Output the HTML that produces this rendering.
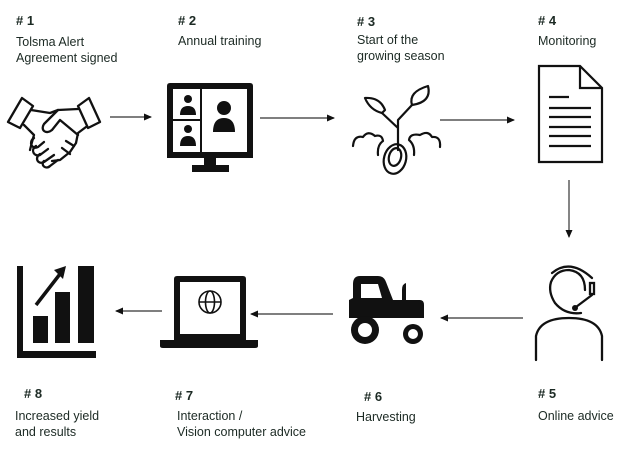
<!DOCTYPE html>
<html><head><meta charset="utf-8"><style>
html,body{margin:0;padding:0;background:#fff;}
svg{display:block;}
text{font-family:"Liberation Sans",sans-serif;fill:#1c2a24;font-size:12.5px;}
.h{font-weight:bold;font-size:13px;}
</style></head><body>
<svg width="624" height="453" viewBox="0 0 624 453" xmlns="http://www.w3.org/2000/svg">
<defs><marker id="a" markerWidth="8" markerHeight="8" refX="7" refY="4" orient="auto" markerUnits="userSpaceOnUse"><path d="M0,0.5 L8,4 L0,7.5z" fill="#111"/></marker></defs>

<text class="h" x="16" y="25"># 1</text>
<text x="16" y="46">Tolsma Alert</text>
<text x="16" y="62">Agreement signed</text>
<text class="h" x="178" y="25"># 2</text>
<text x="178" y="45">Annual training</text>
<text class="h" x="357" y="26"># 3</text>
<text x="357" y="44">Start of the</text>
<text x="357" y="60">growing season</text>
<text class="h" x="538" y="25"># 4</text>
<text x="538" y="45">Monitoring</text>

<text class="h" x="24" y="398"># 8</text>
<text x="15" y="420">Increased yield</text>
<text x="15" y="436">and results</text>
<text class="h" x="175" y="400"># 7</text>
<text x="177" y="420">Interaction /</text>
<text x="177" y="436">Vision computer advice</text>
<text class="h" x="364" y="401"># 6</text>
<text x="356" y="421">Harvesting</text>
<text class="h" x="538" y="398"># 5</text>
<text x="538" y="420">Online advice</text>

<g stroke="#333" stroke-width="1.2" fill="none">
<line x1="110" y1="117" x2="151" y2="117" marker-end="url(#a)"/>
<line x1="260" y1="118" x2="334" y2="118" marker-end="url(#a)"/>
<line x1="440" y1="120" x2="514" y2="120" marker-end="url(#a)"/>
<line x1="569" y1="180" x2="569" y2="237" marker-end="url(#a)"/>
<line x1="523" y1="318" x2="441" y2="318" marker-end="url(#a)"/>
<line x1="333" y1="314" x2="251" y2="314" marker-end="url(#a)"/>
<line x1="162" y1="311" x2="116" y2="311" marker-end="url(#a)"/>
</g>

<g fill="none" stroke="#111" stroke-width="2.3" stroke-linejoin="round" stroke-linecap="round">
<path d="M8,122 L22,98 L33,106 L20,128 Z"/>
<path d="M78,106 L89,98 L100,122 L88,128 Z"/>
<path d="M31,110 L50,113 L58,110 L78,109"/>
<path d="M86,127 L78,133 L76,143 L70,152 L60,160 L52,161"/>
<path d="M24,125 L34,135 L32,142 L30,150"/>
<path d="M58,110 L44,124 C40,130 46,135 52,130 L60,120 L78,135"/>
<path d="M34,138 C28,142 32,150 38,147 L44,142"/>
<path d="M36,146 C30,150 34,157 40,155 L48,149"/>
<path d="M40,154 C34,158 38,165 44,162 L54,155"/>
<path d="M44,161 C40,165 46,170 50,166 L58,160"/>
<path d="M66,141 L74,146 M62,148 L70,154"/>
</g>

<g fill="#111">
<path d="M167,86 Q167,83 170,83 L250,83 Q253,83 253,86 L253,158 L167,158 Z M173,89 L173,152 L247,152 L247,89 Z" fill-rule="evenodd"/>
<rect x="204" y="158" width="12" height="8"/>
<rect x="192" y="165" width="37" height="7"/>
<rect x="200" y="89" width="2" height="63"/>
<rect x="173" y="119" width="28" height="2"/>
<circle cx="188" cy="99" r="4"/><path d="M180,115 Q180,106 188,106 Q196,106 196,115Z"/>
<circle cx="188" cy="129" r="4"/><path d="M180,146 Q180,136 188,136 Q196,136 196,146Z"/>
<circle cx="224" cy="108" r="7"/><path d="M213,132 Q213,118 224,118 Q235,118 235,132Z"/>
</g>

<g fill="none" stroke="#111" stroke-width="2.2" stroke-linecap="round" stroke-linejoin="round">
<path d="M398,150 L398,120 L412,105 M398,128 L382,113"/>
<path d="M412,105 Q408,92 428,86 Q432,102 412,105 Z"/>
<path d="M382,113 Q370,110 365,98 Q380,97 385,110 Z"/>
<path d="M353,146 Q354,135 363,137 Q368,130 375,136 Q382,134 383,141 Q377,145 378,155"/>
<path d="M440,147 Q441,136 432,137 Q428,130 420,135 Q410,133 409,140 Q415,145 414,155"/>
<ellipse cx="395" cy="159" rx="11" ry="15" transform="rotate(15 395 159)"/>
<ellipse cx="395" cy="157" rx="6" ry="9" transform="rotate(15 395 157)"/>
</g>

<g fill="none" stroke="#111" stroke-width="2.2" stroke-linejoin="miter">
<path d="M539,66 L580,66 L602,88 L602,162 L539,162 Z"/>
<path d="M580,66 L580,88 L602,88"/>
<path d="M549,97 L569,97 M549,108 L591,108 M549,117 L591,117 M549,127 L591,127 M549,136 L591,136 M549,146 L591,146"/>
</g>

<g fill="none" stroke="#111" stroke-width="2.3" stroke-linecap="round">
<path d="M581,313 Q565,315 555,303 Q548,292 551,282 Q556,270 569,270 Q585,272 585,290"/>
<path d="M552,273 Q570,258 592,278"/>
<rect x="590" y="283" width="4" height="11"/>
<path d="M592,295 L576,307"/>
<path d="M536,360 L536,336 Q540,318 569,318 Q598,318 602,336 L602,360"/>
</g>
<circle cx="575" cy="308" r="3" fill="#111"/>

<g fill="#111">
<path d="M353,284 Q353,276 360,276 L378,276 Q384,276 386,282 L393,300 L420,300 Q424,300 424,305 L424,318 L349,318 L349,300 L353,298 Z M361,284 L361,298 L382,298 L378,284 Z" fill-rule="evenodd"/>
<path d="M402,300 L402,290 Q402,284 406,283 L406,300Z"/>
<circle cx="365" cy="330" r="14"/>
<circle cx="413" cy="334" r="10"/>
</g>
<circle cx="365" cy="330" r="7" fill="#fff"/>
<circle cx="413" cy="334" r="5" fill="#fff"/>

<g fill="#111">
<path d="M174,279 Q174,276 177,276 L243,276 Q246,276 246,279 L246,340 L174,340 Z M180,282 L180,334 L240,334 L240,282 Z" fill-rule="evenodd"/>
<path d="M160,340 L258,340 L258,346 Q258,348 255,348 L163,348 Q160,348 160,346 Z"/>
</g>
<g fill="none" stroke="#111" stroke-width="1.6">
<circle cx="210" cy="302" r="11"/>
<ellipse cx="210" cy="302" rx="4.5" ry="11"/>
<line x1="199" y1="302" x2="221" y2="302"/>
</g>

<g fill="#111">
<rect x="17" y="266" width="6" height="92"/>
<rect x="17" y="351" width="79" height="7"/>
<rect x="33" y="316" width="15" height="27"/>
<rect x="55" y="292" width="15" height="51"/>
<rect x="78" y="266" width="16" height="77"/>
</g>
<line x1="36" y1="305" x2="60" y2="274" stroke="#111" stroke-width="3.5"/>
<path d="M54,270 L66,266 L63,279 Z" fill="#111"/>
</svg>
</body></html>
